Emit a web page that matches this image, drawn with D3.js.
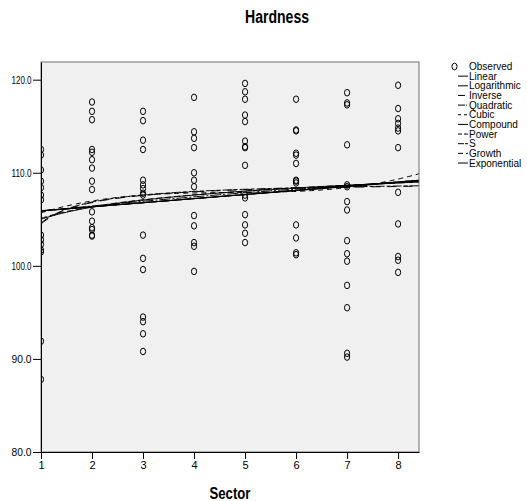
<!DOCTYPE html>
<html>
<head>
<meta charset="utf-8">
<script src="https://cdn.jsdelivr.net/npm/d3@7"></script>
<style>
  body { margin: 0; background: #fff; }
  text { font-family: "Liberation Sans", Arial, Helvetica, sans-serif; fill: #000; }
</style>
</head>
<body>
<div id="chart"></div>
<script>
var sectors = [1, 2, 3, 4, 5, 6, 7, 8];
var sector1 = [112.5, 111.9, 110.3, 109.1, 108.4, 107.6, 107.1, 103.3, 102.8, 102.3, 101.7, 101.5, 91.9, 87.8];
var sector2 = [117.6, 116.6, 115.7, 112.5, 112.2, 111.4, 110.5, 109.1, 108.2, 105.8, 104.8, 104.1, 103.9, 103.3, 103.2];
var sector3 = [116.6, 115.6, 113.5, 112.5, 109.2, 108.7, 108.3, 107.8, 107.6, 103.3, 100.8, 99.6, 94.5, 94.0, 92.7, 90.8];
var sector4 = [118.1, 114.4, 113.7, 112.7, 110.0, 109.2, 108.5, 105.4, 104.3, 102.5, 102.1, 99.4];
var sector5 = [119.6, 118.7, 117.9, 116.2, 115.5, 113.4, 112.8, 112.7, 110.8, 107.6, 107.3, 105.5, 104.4, 103.5, 102.5];
var sector6 = [117.9, 114.6, 114.5, 112.1, 111.9, 111.0, 109.2, 109.1, 108.9, 104.4, 103.0, 101.4, 101.2];
var sector7 = [118.6, 117.5, 117.3, 113.0, 108.7, 108.5, 106.9, 106.0, 102.7, 101.3, 100.5, 97.9, 95.5, 90.6, 90.2];
var sector8 = [119.4, 116.9, 115.8, 115.3, 114.8, 114.5, 112.7, 107.9, 104.5, 101.0, 100.6, 99.3];

var yTicks = [80, 90, 100, 110, 120];

// fitted curves: model names and coefficients (estimated from the drawn curves)
var models = ["Linear", "Logarithmic", "Inverse", "Quadratic", "Cubic", "Compound", "Power", "S", "Growth", "Exponential"];
var coefB0 = [105.5, 105.0, 109.1, 105.3, 103.569, 105.46, 105.1, 4.69274, 4.65836, 105.46];
var coefB1 = [0.43, 1.88, -4.6, 0.6, 2.63966, 1.00415, 0.01711, -0.0426, 0.004141, 0.004141];
var coefB2 = [0, 0, 0, -0.018, -0.54716, 0, 0, 0, 0, 0];
var coefB3 = [0, 0, 0, 0, 0.038383, 0, 0, 0, 0, 0];
var dashes = ["", "", "9,7", "11,2,2,2", "5,4", "", "6,3", "9,2,4,2", "9,4,3,4", ""];
var legendDashes = ["", "", "7,3", "7,1,1,1", "3,3", "", "4,2", "6,1,3,0", "5,3,2,0", ""];

var byS = [sector1, sector2, sector3, sector4, sector5, sector6, sector7, sector8];
var points = [];
byS.forEach(function(vals, i) {
    vals.forEach(function(v) { points.push({ sector: sectors[i], hardness: v }); });
});

// SPSS curve estimation equations
function modelValue(i, t) {
    var b0 = coefB0[i], b1 = coefB1[i], b2 = coefB2[i], b3 = coefB3[i];
    switch (models[i]) {
        case "Linear": return b0 + b1 * t;
        case "Logarithmic": return b0 + b1 * Math.log(t);
        case "Inverse": return b0 + b1 / t;
        case "Quadratic": return b0 + b1 * t + b2 * t * t;
        case "Cubic": return b0 + b1 * t + b2 * t * t + b3 * t * t * t;
        case "Compound": return b0 * Math.pow(b1, t);
        case "Power": return b0 * Math.pow(t, b1);
        case "S": return Math.exp(b0 + b1 / t);
        case "Growth": return Math.exp(b0 + b1 * t);
        case "Exponential": return b0 * Math.exp(b1 * t);
    }
}

var width = 527, height = 501;
var plot = { left: 41, right: 419, top: 62, bottom: 452 };

var svg = d3.select("#chart").append("svg")
    .attr("width", width)
    .attr("height", height);

var x = d3.scaleLinear().domain([1, 8.41]).range([plot.left, plot.right]);
var y = d3.scaleLinear().domain([80, 121.9]).range([plot.bottom, plot.top]);

// plot background
svg.append("rect")
    .attr("x", plot.left)
    .attr("y", plot.top)
    .attr("width", plot.right - plot.left)
    .attr("height", plot.bottom - plot.top)
    .attr("fill", "#f0f0f0")
    .attr("stroke", "#6e6e6e")
    .attr("stroke-width", 1);

svg.append("clipPath").attr("id", "clip")
    .append("rect")
    .attr("x", plot.left)
    .attr("y", plot.top)
    .attr("width", plot.right - plot.left)
    .attr("height", plot.bottom - plot.top);

var grid = d3.range(1, 8.41 + 0.001, 0.05);
var line = d3.line().x(function(d) { return x(d[0]); }).y(function(d) { return y(d[1]); });

var curveG = svg.append("g").attr("clip-path", "url(#clip)");
models.forEach(function(name, i) {
    curveG.append("path")
        .datum(grid.map(function(t) { return [t, modelValue(i, t)]; }))
        .attr("d", line)
        .attr("fill", "none")
        .attr("stroke", "#000")
        .attr("stroke-width", 1)
        .attr("stroke-dasharray", dashes[i] || null);
});

// observed points
svg.append("g").attr("clip-path", "url(#clip)")
    .selectAll("ellipse")
    .data(points)
    .enter()
    .append("ellipse")
    .attr("cx", function(d) { return x(d.sector); })
    .attr("cy", function(d) { return y(d.hardness); })
    .attr("rx", 2.6)
    .attr("ry", 3.3)
    .attr("fill", "none")
    .attr("stroke", "#000")
    .attr("stroke-width", 1);

// axes
var yAxis = svg.append("g")
    .attr("transform", "translate(" + plot.left + ",0)")
    .call(d3.axisLeft(y).tickValues(yTicks).tickFormat(d3.format(".1f")).tickSize(8).tickSizeOuter(0).tickPadding(1.5));
var xAxis = svg.append("g")
    .attr("transform", "translate(0," + plot.bottom + ")")
    .call(d3.axisBottom(x).tickValues(sectors).tickFormat(d3.format("d")).tickSize(7).tickSizeOuter(0).tickPadding(2));
[yAxis, xAxis].forEach(function(g) {
    g.selectAll("path, line").attr("stroke", "#000");
    g.selectAll("text").style("font-size", "11px").style("font-family", null).attr("fill", "#000");
});
// narrow tick labels like the original
yAxis.selectAll("text")
    .attr("textLength", 20)
    .attr("lengthAdjust", "spacingAndGlyphs");

// title and axis label
svg.append("text")
    .attr("x", 277)
    .attr("y", 23)
    .attr("text-anchor", "middle")
    .attr("textLength", 64)
    .attr("lengthAdjust", "spacingAndGlyphs")
    .style("font-size", "17.5px")
    .style("font-weight", "bold")
    .text("Hardness");

svg.append("text")
    .attr("x", (plot.left + plot.right) / 2)
    .attr("y", 499)
    .attr("text-anchor", "middle")
    .attr("textLength", 41)
    .attr("lengthAdjust", "spacingAndGlyphs")
    .style("font-size", "16.5px")
    .style("font-weight", "bold")
    .text("Sector");

// legend
var legend = svg.append("g").attr("transform", "translate(0,66.5)");
legend.append("ellipse")
    .attr("cx", 454.5)
    .attr("cy", 0)
    .attr("rx", 2.6)
    .attr("ry", 3.3)
    .attr("fill", "none")
    .attr("stroke", "#000");
legend.append("text")
    .attr("x", 469)
    .attr("y", 3.6)
    .style("font-size", "10px")
    .text("Observed");

models.forEach(function(name, i) {
    var ly = (i + 1) * 9.65;
    legend.append("line")
        .attr("x1", 458)
        .attr("x2", 468)
        .attr("y1", ly)
        .attr("y2", ly)
        .attr("stroke", "#000")
        .attr("stroke-dasharray", legendDashes[i] || null);
    legend.append("text")
        .attr("x", 469)
        .attr("y", ly + 3.6)
        .style("font-size", "10px")
        .text(name);
});
</script>
</body>
</html>
